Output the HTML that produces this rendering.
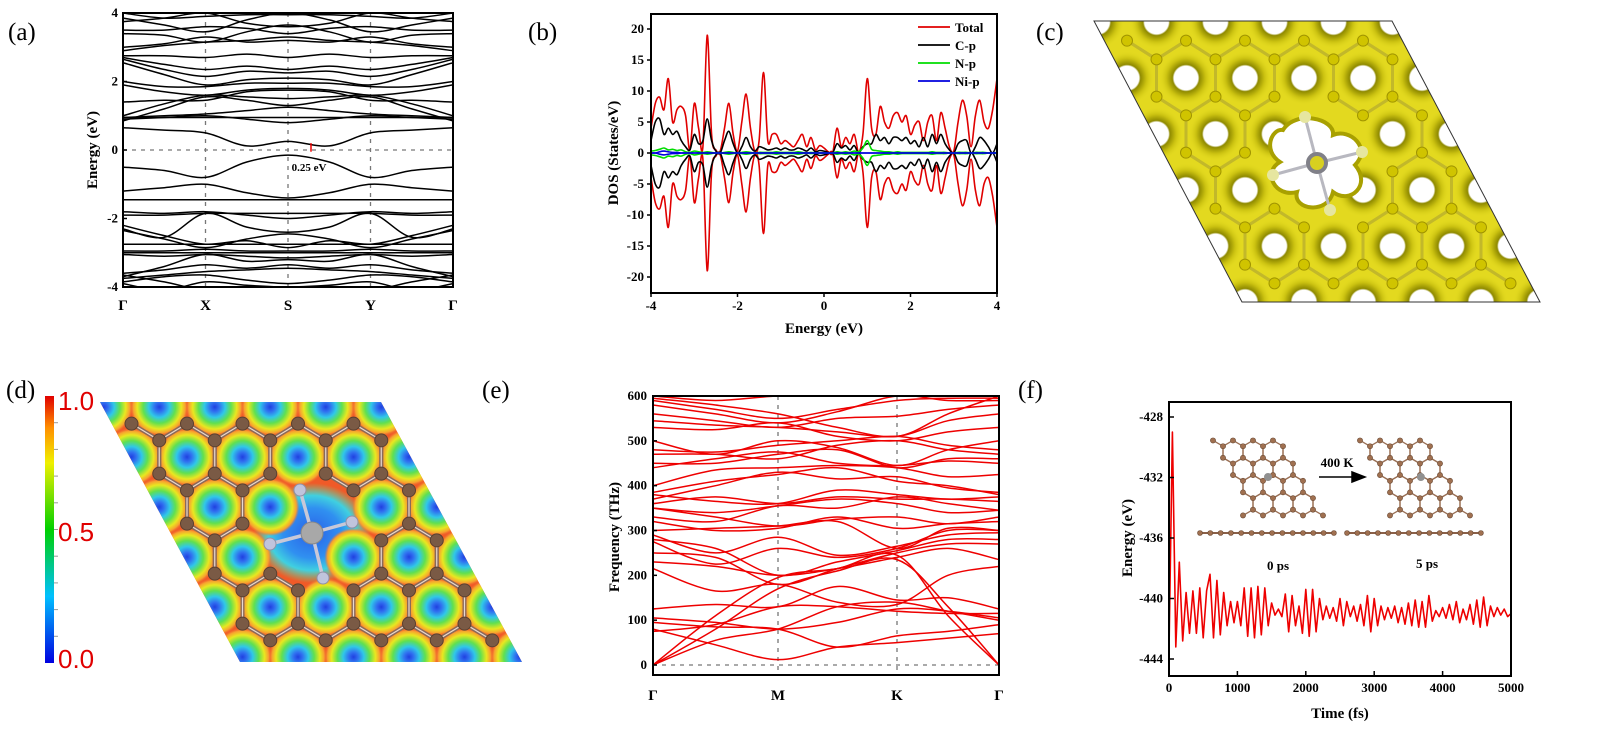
<!DOCTYPE html>
<html><head><meta charset="utf-8"><style>
html,body{margin:0;padding:0;background:#fff;width:1598px;height:731px;overflow:hidden;}
svg{display:block;font-family:"Liberation Serif",serif;}
.tk{font-weight:bold;font-size:13px;}
.ttl{font-weight:bold;font-size:15px;}
.pl{font-size:25px;}
</style></head><body>
<svg id="fig" width="1598" height="731" viewBox="0 0 1598 731" xmlns="http://www.w3.org/2000/svg">
<defs>
<clipPath id="clipA"><rect x="123" y="13" width="330" height="274"/></clipPath>
<clipPath id="clipB"><rect x="651" y="14" width="346" height="279"/></clipPath>
<clipPath id="clipE"><rect x="653" y="396" width="346" height="279"/></clipPath>
<clipPath id="clipF"><rect x="1169" y="402" width="342" height="274"/></clipPath>
<clipPath id="clipC"><polygon points="1094,21 1392,21 1540,302 1242,302"/></clipPath>
<clipPath id="clipD"><polygon points="100,402 381,402 522,662 240,662"/></clipPath>
<radialGradient id="holeC"><stop offset="0.44" stop-color="#ffffff"/><stop offset="0.5" stop-color="#8f8a00"/><stop offset="0.72" stop-color="#c9c010"/><stop offset="1" stop-color="#e2da20" stop-opacity="0"/></radialGradient>
<radialGradient id="holeD"><stop offset="0" stop-color="#2040e0"/><stop offset="0.16" stop-color="#3070f0"/><stop offset="0.36" stop-color="#30c8e8"/><stop offset="0.56" stop-color="#60e050"/><stop offset="0.76" stop-color="#e8e820"/><stop offset="0.9" stop-color="#f8a030"/><stop offset="1" stop-color="#f07030" stop-opacity="0"/></radialGradient>
<radialGradient id="defD"><stop offset="0" stop-color="#2a60e8"/><stop offset="0.5" stop-color="#3090f0"/><stop offset="0.75" stop-color="#40d0e0"/><stop offset="1" stop-color="#60e090" stop-opacity="0"/></radialGradient>
<linearGradient id="cbar" x1="0" y1="1" x2="0" y2="0"><stop offset="0" stop-color="#0000e0"/><stop offset="0.25" stop-color="#00c0ff"/><stop offset="0.5" stop-color="#00d000"/><stop offset="0.75" stop-color="#f0f000"/><stop offset="0.88" stop-color="#ff9000"/><stop offset="1" stop-color="#e00000"/></linearGradient>
</defs>

<text class="pl" x="8" y="40">(a)</text>
<text class="pl" x="528" y="40">(b)</text>
<text class="pl" x="1036" y="40">(c)</text>
<text class="pl" x="6" y="398">(d)</text>
<text class="pl" x="482" y="398">(e)</text>
<text class="pl" x="1018" y="398">(f)</text>

<g id="pA"></g>
<g id="pB"></g>
<g id="pC"></g>
<g id="pD"></g>
<g id="pE"></g>
<g id="pF"></g>
</svg>
<script>
// ===== DATA =====
const bandsA = [
[0.65,0.58,0.5,0.12,0.25,0.12,0.5,0.58,0.65],
[-0.5,-0.6,-0.8,-0.35,-0.15,-0.35,-0.8,-0.6,-0.5],
[-1.2,-1.1,-1.0,-1.25,-1.4,-1.25,-1.0,-1.1,-1.2],
[-1.45,-1.45,-1.45,-1.45,-1.45,-1.45,-1.45,-1.45,-1.45],
[-1.8,-1.85,-1.8,-1.9,-2.0,-1.9,-1.8,-1.85,-1.8],
[-1.9,-1.9,-1.85,-1.85,-1.85,-1.85,-1.85,-1.9,-1.9],
[-2.3,-2.55,-1.85,-2.25,-2.4,-2.25,-1.85,-2.55,-2.3],
[-2.35,-2.6,-2.85,-2.6,-2.45,-2.6,-2.85,-2.6,-2.35],
[-2.2,-2.5,-2.75,-2.65,-2.85,-2.65,-2.75,-2.5,-2.2],
[-2.75,-2.75,-2.75,-2.75,-2.75,-2.75,-2.75,-2.75,-2.75],
[-2.95,-2.95,-2.9,-2.95,-2.95,-2.95,-2.9,-2.95,-2.95],
[-3.0,-3.0,-3.0,-3.0,-3.0,-3.0,-3.0,-3.0,-3.0],
[-3.05,-3.1,-3.05,-3.1,-3.15,-3.1,-3.05,-3.1,-3.05],
[-3.7,-3.4,-3.05,-3.25,-3.2,-3.25,-3.05,-3.4,-3.7],
[-3.6,-3.5,-3.35,-3.45,-3.35,-3.45,-3.35,-3.5,-3.6],
[-3.75,-3.65,-3.55,-3.5,-3.45,-3.5,-3.55,-3.65,-3.75],
[-3.85,-3.7,-3.65,-3.8,-3.9,-3.8,-3.65,-3.7,-3.85],
[-3.9,-4.1,-3.85,-3.95,-4.0,-3.95,-3.85,-4.1,-3.9],
[-3.65,-3.85,-4.1,-4.05,-4.0,-4.05,-4.1,-3.85,-3.65],
[0.9,0.95,1.0,0.9,0.8,0.9,1.0,0.95,0.9],
[0.95,1.0,1.05,1.15,1.25,1.15,1.05,1.0,0.95],
[0.95,0.95,0.95,0.95,0.95,0.95,0.95,0.95,0.95],
[0.85,1.2,1.55,1.45,1.3,1.45,1.55,1.2,0.85],
[1.0,1.35,1.6,1.55,1.5,1.55,1.6,1.35,1.0],
[1.4,1.45,1.45,1.7,1.75,1.7,1.45,1.45,1.4],
[2.0,1.85,1.85,1.95,1.95,1.95,1.85,1.85,2.0],
[1.9,1.7,1.6,1.75,1.8,1.75,1.6,1.7,1.9],
[2.55,2.2,1.9,2.05,2.1,2.05,1.9,2.2,2.55],
[2.65,2.35,2.15,2.3,2.25,2.3,2.15,2.35,2.65],
[2.7,2.5,2.35,2.45,2.35,2.45,2.35,2.5,2.7],
[2.75,2.75,2.7,2.8,2.7,2.8,2.7,2.75,2.75],
[2.9,3.05,3.15,3.2,3.3,3.2,3.15,3.05,2.9],
[3.0,3.1,3.3,3.15,3.2,3.15,3.3,3.1,3.0],
[3.4,3.35,3.15,3.45,3.65,3.45,3.15,3.35,3.4],
[3.5,3.5,3.6,3.55,3.4,3.55,3.6,3.5,3.5],
[3.75,3.85,4.0,3.7,3.6,3.7,4.0,3.85,3.75],
[3.85,3.65,3.45,3.8,4.0,3.8,3.45,3.65,3.85],
[4.0,3.85,3.9,3.95,3.95,3.95,3.9,3.85,4.0]
];
const kLabelsA = ["Γ","X","S","Y","Γ"];
const yTicksA = [4,2,0,-2,-4];
const dosTotal = [4,8,9,7,12,5,7,7.5,6,0.5,8,4,1,19,3,0.5,0.3,4,8,3,0.3,5,9.5,4,0.3,2,13,2,3,3,1.5,2,1.5,1,2,3,1,2.5,0.5,1.2,0.8,0.2,0,4,1,2.5,1.5,3,0.2,3,12,4,3,7.5,5,4,6,6.5,5,6,3,4.5,5,2,5,6,2,6.5,4,1,0.3,5,8.5,6,1,6,8.5,5,4,7,12];
const dosC = [2,5,5.5,3,4,3,3.5,2,1,0.5,3,1.5,2,5.5,2,0.3,0,2,3.5,1.5,0,1,2.5,1,0.3,1,0.8,0.5,0.6,0.8,0.5,0.8,0.5,0.5,0.8,0.6,0.3,0.8,0.2,0.4,0.3,0.1,0,1.5,0.8,1.2,0.5,1.2,0,1,1.5,1.5,3,2,2.5,1.5,2.5,2.5,2,2.5,1.5,2,1,2.5,1,3,1.5,3,1.5,0.5,0,1.5,2,2,0,1,2.5,2,1,0,1.5];
const dosN = [0.3,0.4,0.6,0.8,0.5,0.6,0.4,0.5,0.2,0.1,0.3,0.2,0.1,0.2,0.1,0,0,0.1,0.2,0.1,0,0.1,0.2,0.1,0,0.1,0.1,0.1,0.1,0.2,0.1,0.1,0.1,0.1,0.2,0.1,0,0.1,0,0,0,0,0,0.2,0.1,0.2,0.1,0.3,0.2,0.8,2,0.6,0.4,0.3,0.2,0.2,0.1,0.2,0.1,0.1,0.1,0.1,0.1,0.1,0.1,0.2,0.1,0.1,0.1,0,0,0.1,0.1,0.1,0,0.1,0.1,0.1,0,0,0.1];
const dosNi = [0,0,0.2,0.3,0.2,0.1,0.1,0,0,0,0,0,0,0,0,0,0,0,0,0,0,0,0,0,0,0,0,0,0,0,0,0,0,0,0,0,0,0,0,0,0,0,0,0,0,0,0,0,0,0,0,0,0,0,0,0,0,0,0,0,0,0,0,0,0,0,0,0,0,0,0,0,0,0,0,0,0,0,0,0,0];
const xTicksB = [-4,-2,0,2,4];
const yTicksB = [20,15,10,5,0,-5,-10,-15,-20];
const legendB = ["Total","C-p","N-p","Ni-p"];
const bandsE = [
[80,45,12,40,50,60,70],[95,85,80,40,65,75,90],[0,55,80,130,140,120,100],
[0,80,170,210,235,130,0],[0,110,195,215,245,110,0],[105,95,80,95,125,120,105],
[125,135,130,175,145,150,125],[75,90,130,130,120,115,115],[215,165,180,140,135,200,220],
[230,220,200,215,240,260,235],[250,240,180,215,250,270,270],[280,260,200,230,255,280,280],
[290,250,285,245,265,290,295],[275,225,260,240,260,300,300],[300,305,310,320,260,305,300],
[320,300,305,330,305,315,320],[350,340,355,370,360,340,345],[360,375,360,375,370,370,365],
[380,365,360,390,380,370,375],[385,410,425,440,410,400,380],[370,400,430,415,420,395,385],
[400,435,440,445,440,420,425],[440,460,475,450,445,455,450],[450,450,470,480,440,460,460],
[470,470,460,490,500,480,470],[480,475,490,500,510,490,480],[500,470,500,485,445,480,500],
[530,525,540,510,500,520,530],[545,535,530,520,510,545,560],[560,545,530,550,555,570,580],
[580,560,540,565,600,590,590],[590,570,550,570,590,595,595],[595,580,560,530,510,560,600],
[600,590,600,600,600,600,600],[350,330,310,325,330,315,330],[330,320,355,350,375,360,345]
];
const kLabelsE = ["Γ","M","K","Γ"];
const yTicksE = [600,500,400,300,200,100,0];
const mdEnergy = [-443.5,-429,-443.2,-437.6,-442.8,-439.6,-442.3,-439.5,-442.3,-439.3,-442.6,-439.5,-438.4,-442.6,-438.8,-442.4,-439.6,-441.8,-440.2,-441.6,-440.2,-441.8,-439.3,-442.5,-439.3,-442.6,-439.2,-442.4,-439.3,-441.8,-440.3,-441.1,-440.7,-441.2,-439.7,-442.2,-439.8,-441.8,-440.5,-442.3,-439.4,-442.5,-439.4,-442.2,-440,-441.4,-440.5,-441.3,-440.6,-441.5,-440,-441.8,-440.2,-441.2,-440.5,-441.5,-440.4,-441.8,-439.8,-442.2,-440,-441.8,-440.5,-441.4,-440.6,-441.3,-440.5,-441.6,-440.6,-441.7,-440.3,-441.8,-440.1,-441.9,-440.2,-441.9,-439.8,-441.5,-440.8,-441.2,-440.6,-441.3,-440.4,-441.4,-440.2,-441.6,-440.7,-441.4,-440.4,-441.7,-440.1,-441.9,-439.9,-441.8,-440.5,-441.2,-440.6,-441.1,-440.7,-441.2,-441];
const xTicksF = [0,1000,2000,3000,4000,5000];
const yTicksF = [-428,-432,-436,-440,-444];

// ===== HELPERS =====
const NS='http://www.w3.org/2000/svg';
function mk(parent,tag,attrs,txt){const e=document.createElementNS(NS,tag);for(const k in attrs)e.setAttribute(k,attrs[k]);if(txt!==undefined)e.textContent=txt;parent.appendChild(e);return e;}
function cr(p){let d='M'+p[0][0].toFixed(1)+','+p[0][1].toFixed(1);for(let i=0;i<p.length-1;i++){const p0=p[i-1]||p[i],p1=p[i],p2=p[i+1],p3=p[i+2]||p2;d+=' C'+(p1[0]+(p2[0]-p0[0])/6).toFixed(1)+','+(p1[1]+(p2[1]-p0[1])/6).toFixed(1)+' '+(p2[0]-(p3[0]-p1[0])/6).toFixed(1)+','+(p2[1]-(p3[1]-p1[1])/6).toFixed(1)+' '+p2[0].toFixed(1)+','+p2[1].toFixed(1);}return d;}
function poly(p){return p.map((q,i)=>(i?'L':'M')+q[0].toFixed(1)+','+q[1].toFixed(1)).join(' ');}

// ===== PANEL A =====
(function(){
const g=document.getElementById('pA');
const X0=123,X1=453,Y0=13,Y1=287;
const ya=e=>Y0+(4-e)/8*(Y1-Y0);
const kx=[X0,X0+41.25,X0+82.5,X0+123.75,X0+165,X0+206.25,X0+247.5,X0+288.75,X1];
const lab=[X0,X0+82.5,X0+165,X0+247.5,X1];
for(let i=1;i<4;i++){const l=mk(g,'line',{x1:lab[i],x2:lab[i],y1:Y0,y2:Y1,stroke:'#777','stroke-width':1.3,'stroke-dasharray':'4,5'});

}
const fl=mk(g,'line',{x1:X0,x2:X1,y1:ya(0),y2:ya(0),stroke:'#777','stroke-width':1.3,'stroke-dasharray':'4,5'});


const bg=mk(g,'g',{'clip-path':'url(#clipA)'});
bandsA.forEach(b=>{const p=mk(bg,'path',{d:cr(b.map((v,i)=>[kx[i],ya(v)])),fill:'none',stroke:'#000','stroke-width':1.5});

});
const bx=mk(g,'rect',{x:X0,y:Y0,width:X1-X0,height:Y1-Y0,fill:'none',stroke:'#000','stroke-width':2});


yTicksA.forEach(t=>{const tx=mk(g,'text',{x:X0-5,y:ya(t)+4,'text-anchor':'end',class:'tk'},String(t));


const tl=mk(g,'line',{x1:X0,x2:X0+4,y1:ya(t),y2:ya(t),stroke:'#000','stroke-width':1.5});

});
kLabelsA.forEach((k,i)=>{const tx=mk(g,'text',{x:lab[i],y:310,'text-anchor':'middle',class:'tk',style:'font-size:15px'},k);

});
const yt=mk(g,'text',{x:0,y:0,'text-anchor':'middle',class:'ttl',transform:'translate(97,150) rotate(-90)'},'Energy (eV)');


const gm=mk(g,'line',{x1:311,x2:311,y1:ya(0.2),y2:ya(-0.05),stroke:'#e00','stroke-width':1.5});


const gt=mk(g,'text',{x:309,y:171,'text-anchor':'middle',class:'tk',style:'font-size:11px'},'0.25 eV');


})();

// ===== PANEL B =====
(function(){
const g=document.getElementById('pB');
const X0=651,X1=997,Y0=14,Y1=293;
const xb=e=>X0+(e+4)/8*(X1-X0);
const yb=v=>153-v*6.2;
const cg=mk(g,'g',{'clip-path':'url(#clipB)'});
const series=[[dosTotal,'#e00000','total'],[dosC,'#000','c-p'],[dosN,'#00dd00','n-p'],[dosNi,'#0000dd','ni-p']];
series.forEach(s=>{[1,-1].forEach(sg=>{const p=mk(cg,'path',{d:cr(s[0].map((v,i)=>[xb(-4+i*0.1),yb(sg*v)])),fill:'none',stroke:s[1],'stroke-width':1.6,'stroke-linejoin':'round'});

});});
const bx=mk(g,'rect',{x:X0,y:Y0,width:X1-X0,height:Y1-Y0,fill:'none',stroke:'#000','stroke-width':2});


yTicksB.forEach(t=>{const tx=mk(g,'text',{x:X0-7,y:yb(t)+4,'text-anchor':'end',class:'tk'},String(t));


const tl=mk(g,'line',{x1:X0-4,x2:X0,y1:yb(t),y2:yb(t),stroke:'#000','stroke-width':1.5});

});
xTicksB.forEach(t=>{const tx=mk(g,'text',{x:xb(t),y:310,'text-anchor':'middle',class:'tk'},String(t));


const tl=mk(g,'line',{x1:xb(t),x2:xb(t),y1:Y1,y2:Y1+4,stroke:'#000','stroke-width':1.5});

});
const xt=mk(g,'text',{x:824,y:333,'text-anchor':'middle',class:'ttl'},'Energy (eV)');


const yt=mk(g,'text',{x:0,y:0,'text-anchor':'middle',class:'ttl',transform:'translate(618,153) rotate(-90)'},'DOS (States/eV)');


legendB.forEach((n,i)=>{const y=27+i*18;
const ll=mk(g,'line',{x1:918,x2:950,y1:y,y2:y,stroke:series[i][1],'stroke-width':1.8});


const lt=mk(g,'text',{x:955,y:y+5,class:'tk'},n);

});
})();

function lattice(ox,oy,a,rowDy,iMin,iMax,jMin,jMax){const R=rowDy/1.5,holes=[],verts={},bonds=[];
for(let j=jMin;j<=jMax;j++)for(let i=iMin;i<=iMax;i++){const cx=ox+a*i+a/2*j,cy=oy+rowDy*j;holes.push([cx,cy]);
const vs=[[0,-R],[a/2,-R/2],[a/2,R/2],[0,R],[-a/2,R/2],[-a/2,-R/2]].map(o=>[cx+o[0],cy+o[1]]);
vs.forEach((v,k)=>{verts[Math.round(v[0])+','+Math.round(v[1])]=v;bonds.push([v,vs[(k+1)%6]]);});}
return {holes,verts:Object.values(verts),bonds};}

// ===== PANEL C =====
(function(){
const g=document.getElementById('pC');
const cg=mk(g,'g',{'clip-path':'url(#clipC)'});
const bgp=mk(cg,'rect',{x:1090,y:15,width:460,height:295,fill:'#e3d91f'});


const L=lattice(1186,78,59,56,-5,7,-1,5);
const ni=[1317,163];
const near=(p,r)=>Math.hypot(p[0]-ni[0],p[1]-ni[1])<r;
L.holes.forEach(h=>{if(near(h,48)||h[0]<1060||h[0]>1580)return;
const c=mk(cg,'circle',{cx:h[0],cy:h[1],r:27,fill:'url(#holeC)'});

});
const dp=mk(cg,'path',{d:'M1283,130 C1295,110 1335,118 1333,135 C1350,128 1372,148 1355,165 C1372,185 1350,205 1333,192 C1328,215 1292,210 1297,192 C1275,198 1262,172 1280,162 C1262,150 1272,128 1283,130 Z',fill:'#fff',stroke:'#a8a000','stroke-width':4});


const inC=p=>{const le=1094+(p[1]-21)*148/281;return p[0]>le+8&&p[0]<le+298-8&&p[1]>30&&p[1]<296;};
L.bonds.forEach(b=>{if(!inC(b[0])||!inC(b[1])||near(b[0],50)||near(b[1],50))return;
const l=mk(cg,'line',{x1:b[0][0],y1:b[0][1],x2:b[1][0],y2:b[1][1],stroke:'#c2b82a','stroke-width':3});

});
L.verts.forEach(v=>{if(!inC(v)||near(v,50))return;
const c=mk(cg,'circle',{cx:v[0],cy:v[1],r:5.5,fill:'#d0c400',stroke:'#a09400','stroke-width':1});

});
[[1305,117],[1362,152],[1273,175],[1330,210]].forEach(n=>{
const b=mk(cg,'line',{x1:ni[0],y1:ni[1],x2:n[0],y2:n[1],stroke:'#b8b8c0','stroke-width':3});


const c=mk(cg,'circle',{cx:n[0],cy:n[1],r:6,fill:'#e6e6a0'});

});
const nc=mk(cg,'circle',{cx:ni[0],cy:ni[1],r:9,fill:'#d8d020',stroke:'#808088','stroke-width':4});


const fr=mk(g,'polygon',{points:'1094,21 1392,21 1540,302 1242,302',fill:'none',stroke:'#333','stroke-width':1});


})();

// ===== PANEL D =====
(function(){
const g=document.getElementById('pD');
const cb=mk(g,'rect',{x:45,y:396,width:9,height:267,fill:'url(#cbar)'});


for(let k=1;k<10;k++){const t=mk(g,'line',{x1:54,x2:58,y1:396+k*26.7,y2:396+k*26.7,stroke:'#999','stroke-width':1});

}
[['1.0',410],['0.5',541],['0.0',668]].forEach(l=>{const t=mk(g,'text',{x:58,y:l[1],fill:'#e00000',style:'font-family:"Liberation Sans",sans-serif;font-size:26px'},l[0]);

});
const cg=mk(g,'g',{'clip-path':'url(#clipD)'});
const bgp=mk(cg,'rect',{x:95,y:398,width:430,height:268,fill:'#f05a28'});


const L=lattice(187,457,55.5,50,-5,7,-2,4);
const ni=[312,533];
const near=(p,r)=>Math.hypot(p[0]-ni[0],p[1]-ni[1])<r;
const dc=mk(cg,'ellipse',{cx:312,cy:533,rx:58,ry:50,fill:'url(#defD)'});


L.holes.forEach(h=>{if(near(h,40)||h[0]<70||h[0]>560)return;
const c=mk(cg,'circle',{cx:h[0],cy:h[1],r:29,fill:'url(#holeD)'});

});
const inD=p=>{const le=100+(p[1]-402)*140/260;return p[0]>le+10&&p[0]<le+281-10&&p[1]>410&&p[1]<656;};
L.bonds.forEach(b=>{if(!inD(b[0])||!inD(b[1])||near(b[0],45)||near(b[1],45))return;
const l=mk(cg,'line',{x1:b[0][0],y1:b[0][1],x2:b[1][0],y2:b[1][1],stroke:'#8a6a58','stroke-width':4});


const l2=mk(cg,'line',{x1:b[0][0],y1:b[0][1],x2:b[1][0],y2:b[1][1],stroke:'#e8d8d0','stroke-width':1.2});

});
L.verts.forEach(v=>{if(!inD(v)||near(v,45))return;
const c=mk(cg,'circle',{cx:v[0],cy:v[1],r:6.5,fill:'#7a5a45',stroke:'#5a4030','stroke-width':1});

});
[[300,490],[352,522],[270,544],[323,578]].forEach(n=>{
const b=mk(cg,'line',{x1:ni[0],y1:ni[1],x2:n[0],y2:n[1],stroke:'#c8c8d8','stroke-width':3.5});


const c=mk(cg,'circle',{cx:n[0],cy:n[1],r:6,fill:'#c0c4dc',stroke:'#9090a8','stroke-width':1});

});
const nc=mk(cg,'circle',{cx:ni[0],cy:ni[1],r:11,fill:'#a8a8a8',stroke:'#888','stroke-width':1});


})();

// ===== PANEL E =====
(function(){
const g=document.getElementById('pE');
const X0=653,X1=999,Y0=396,Y1=675;
const ye=v=>665-v*269/600;
const kx=[653,715.5,778,837.5,897,948,999];
const lab=[653,778,897,999];
[778,897].forEach(x=>{const l=mk(g,'line',{x1:x,x2:x,y1:Y0,y2:Y1,stroke:'#777','stroke-width':1.3,'stroke-dasharray':'4,5'});

});
const zl=mk(g,'line',{x1:X0,x2:X1,y1:ye(0),y2:ye(0),stroke:'#777','stroke-width':1.3,'stroke-dasharray':'4,5'});


const cg=mk(g,'g',{'clip-path':'url(#clipE)'});
bandsE.forEach(b=>{const p=mk(cg,'path',{d:cr(b.map((v,i)=>[kx[i],ye(v)])),fill:'none',stroke:'#ee0000','stroke-width':1.5});

});
const bx=mk(g,'rect',{x:X0,y:Y0,width:X1-X0,height:Y1-Y0,fill:'none',stroke:'#000','stroke-width':2});


yTicksE.forEach(t=>{const tx=mk(g,'text',{x:X0-6,y:ye(t)+4,'text-anchor':'end',class:'tk'},String(t));


const tl=mk(g,'line',{x1:X0,x2:X0+4,y1:ye(t),y2:ye(t),stroke:'#000','stroke-width':1.5});

});
kLabelsE.forEach((k,i)=>{const tx=mk(g,'text',{x:lab[i],y:700,'text-anchor':'middle',class:'tk',style:'font-size:15px'},k);

});
const yt=mk(g,'text',{x:0,y:0,'text-anchor':'middle',class:'ttl',transform:'translate(619,537) rotate(-90)'},'Frequency (THz)');


})();

// ===== PANEL F =====
(function(){
const g=document.getElementById('pF');
const X0=1169,X1=1511,Y0=402,Y1=676;
const xf=t=>X0+t/5000*(X1-X0);
const yf=v=>417+(-428-v)/16*(659-417);
[[0,'inset-0ps'],[147,'inset-5ps']].forEach(ins=>{const dx=ins[0];
const ig=mk(g,'g',{});


const L=lattice(1213+dx,452,20,17.3,-1,5,0,3);
const ok=p=>{const le=1200+dx+(p[1]-438)*0.55;return p[1]>436&&p[1]<520&&p[0]>le&&p[0]<le+82;};
L.bonds.forEach(b=>{if(!ok(b[0])||!ok(b[1]))return;
const l=mk(ig,'line',{x1:b[0][0],y1:b[0][1],x2:b[1][0],y2:b[1][1],stroke:'#9a7055','stroke-width':1.3});

});
L.verts.forEach(v=>{if(!ok(v))return;
const c=mk(ig,'circle',{cx:v[0],cy:v[1],r:2.6,fill:'#a07050',stroke:'#6a4a35','stroke-width':0.6});

});
const n=mk(ig,'circle',{cx:1268+dx*1.04,cy:477,r:4,fill:'#909090'});


const sl=mk(ig,'line',{x1:1199+dx,x2:1334+dx,y1:533,y2:533,stroke:'#8a6048','stroke-width':2});


for(let k=0;k<14;k++){const c=mk(ig,'circle',{cx:1200+dx+k*10.3,cy:533,r:2.5,fill:'#a07050',stroke:'#6a4a35','stroke-width':0.6});

}
});
const ar=mk(g,'path',{d:'M1319,477 L1358,477 M1352,472 L1365,477 L1352,482 Z',stroke:'#000','stroke-width':1.5,fill:'#000'});


[['400 K',1337,467],['0 ps',1278,570],['5 ps',1427,568]].forEach(l=>{const t=mk(g,'text',{x:l[1],y:l[2],'text-anchor':'middle',class:'tk'},l[0]);

});
const cg=mk(g,'g',{'clip-path':'url(#clipF)'});
const p=mk(cg,'path',{d:poly(mdEnergy.map((v,i)=>[xf(i*50),yf(v)])),fill:'none',stroke:'#ee0000','stroke-width':1.6,'stroke-linejoin':'round'});


const bx=mk(g,'rect',{x:X0,y:Y0,width:X1-X0,height:Y1-Y0,fill:'none',stroke:'#000','stroke-width':2});


yTicksF.forEach(t=>{const tx=mk(g,'text',{x:X0-6,y:yf(t)+4,'text-anchor':'end',class:'tk'},String(t));


const tl=mk(g,'line',{x1:X0,x2:X0+5,y1:yf(t),y2:yf(t),stroke:'#000','stroke-width':1.5});

});
xTicksF.forEach(t=>{const tx=mk(g,'text',{x:xf(t),y:692,'text-anchor':'middle',class:'tk'},String(t));


const tl=mk(g,'line',{x1:xf(t),x2:xf(t),y1:Y1,y2:Y1-5,stroke:'#000','stroke-width':1.5});

});
const xt=mk(g,'text',{x:1340,y:718,'text-anchor':'middle',class:'ttl'},'Time (fs)');


const yt=mk(g,'text',{x:0,y:0,'text-anchor':'middle',class:'ttl',transform:'translate(1132,538) rotate(-90)'},'Energy (eV)');


})();
</script>
</body></html>
